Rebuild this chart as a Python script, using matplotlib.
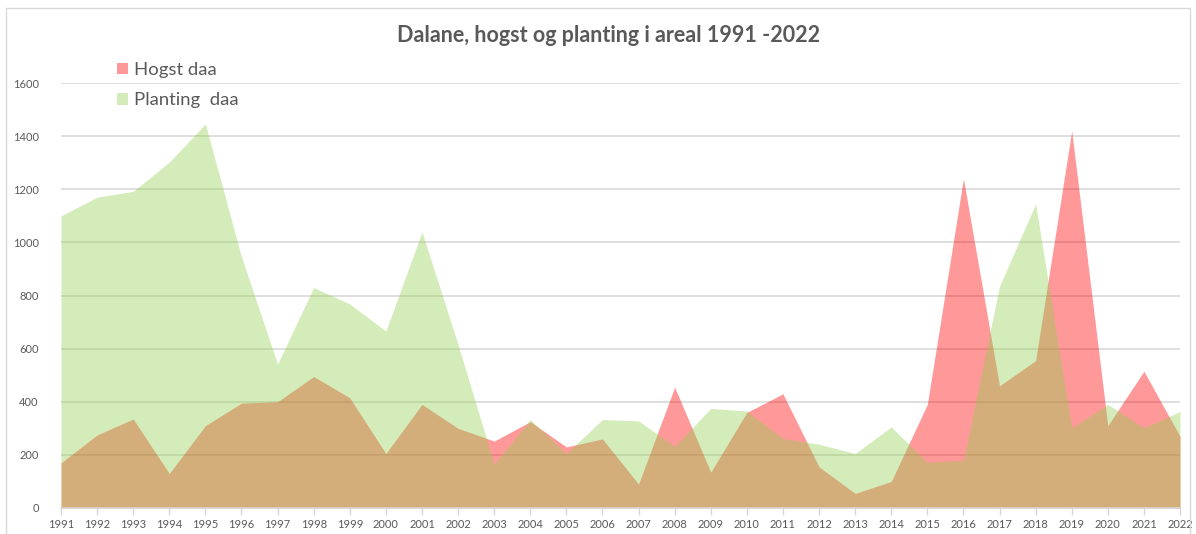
"""
Dalane: hogst og planting i areal 1991-2022 (area chart)
"""

import matplotlib.pyplot as plt
from matplotlib.patches import Rectangle
import numpy as np

years = list(range(1991, 2023))

hogst_daa = [170, 275, 335, 130, 310, 395, 400, 495, 415, 205,
             390, 300, 252, 325, 230, 260, 90, 455, 135, 360,
             430, 155, 55, 100, 390, 1240, 460, 555, 1420, 310,
             515, 270]

planting_daa = [1100, 1170, 1192, 1302, 1446, 945, 542, 830, 768, 666,
                1040, 615, 165, 333, 205, 333, 328, 232, 375, 365,
                262, 240, 205, 305, 172, 180, 835, 1145, 302, 390,
                302, 363]

text_col = '#595959'
grid_col = '#d9d9d9'

plt.rcParams['font.family'] = ['Lato', 'DejaVu Sans']

fig = plt.figure(figsize=(11.96, 5.34), dpi=100)
ax = fig.add_axes([61 / 1196, 1 - 508 / 534, (1180 - 61) / 1196, (508 - 83) / 534])

# chart area border
fig.patches.append(Rectangle((6 / 1196, -0.01), 1184 / 1196, 1 - 8 / 534 + 0.01,
                             transform=fig.transFigure, fill=False,
                             edgecolor=grid_col, linewidth=1))

x = np.array(years)
h1 = ax.fill_between(x, 0, hogst_daa, color='#ff0000', alpha=0.4, linewidth=0, zorder=2)
h2 = ax.fill_between(x, 0, planting_daa, color='#92d050', alpha=0.4, linewidth=0, zorder=3)

ax.set_xlim(1991, 2022)
ax.set_ylim(0, 1600)
ax.set_yticks(range(0, 1601, 200))
ax.set_xticks(years)
ax.set_xticklabels([str(y) for y in years])
ax.grid(True, axis='y', color=grid_col, linewidth=1.2, zorder=1)
ax.set_axisbelow(True)

for s in ['top', 'right', 'left']:
    ax.spines[s].set_visible(False)
ax.spines['bottom'].set_color(grid_col)
ax.spines['bottom'].set_linewidth(1.2)
ax.spines['bottom'].set_zorder(4)

ax.tick_params(axis='x', colors=grid_col, labelcolor=text_col, labelsize=8,
               length=5, width=1, pad=3)
ax.tick_params(axis='y', length=0, labelcolor=text_col, labelsize=8, pad=16)

fig.text(609 / 1196, 1 - 35 / 534, 'Dalane, hogst og planting i areal 1991 -2022',
         ha='center', va='center', fontsize=15.5, fontweight='bold', color=text_col)

leg = fig.legend([h1, h2], ['Hogst daa', 'Planting  daa'],
                 loc='upper left', bbox_to_anchor=(117 / 1196, 1 - 62 / 534),
                 frameon=False, fontsize=13.3, handlelength=0.57, handleheight=0.57,
                 handletextpad=0.33, labelspacing=0.78, borderpad=0, borderaxespad=0,
                 labelcolor=text_col)

plt.savefig('out.png', dpi=100)
